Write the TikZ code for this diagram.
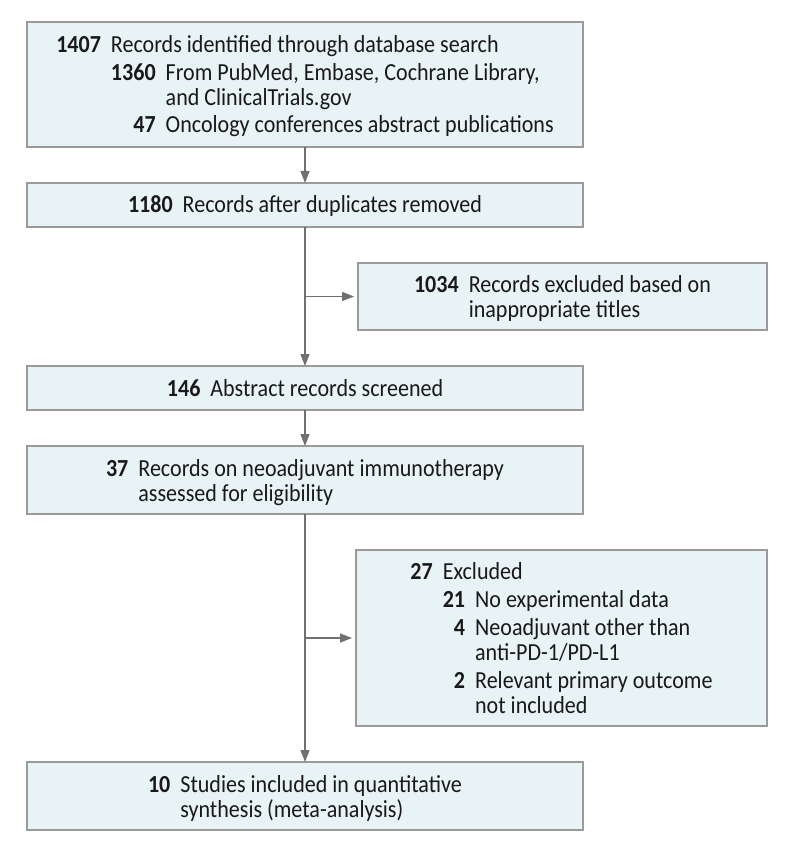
\documentclass[tikz,border=0pt]{standalone}
\usepackage{fontspec}
\setmainfont[FakeStretch=0.9]{Carlito}
\usetikzlibrary{arrows.meta}
\definecolor{boxfill}{HTML}{E8F3F5}
\definecolor{boxline}{HTML}{9A9A9A}
\definecolor{arrowc}{HTML}{707070}
\begin{document}
\begin{tikzpicture}[x=1pt,y=-1pt,
  box/.style={draw=boxline, fill=boxfill, line width=1.4pt, inner sep=0pt, outer sep=0pt},
  txt/.style={anchor=base, inner sep=0pt, font=\fontsize{24.5}{25}\selectfont, text=black!90},
  arr/.style={draw=arrowc, line width=1.3pt, -{Triangle[length=12pt,width=9pt]}},
  lin/.style={draw=arrowc, line width=1.3pt}]
\useasboundingbox (0,0) rectangle (794,850);
\fill[white] (0,0) rectangle (794,850);
% boxes
\node[box, minimum width=556pt, minimum height=125pt] (b1) at (305,84.5) {};
\node[box, minimum width=556pt, minimum height=44pt] (b2) at (305,205) {};
\node[box, minimum width=409pt, minimum height=67pt] (bx1) at (562.5,296.5) {};
\node[box, minimum width=556pt, minimum height=44pt] (b3) at (305,388) {};
\node[box, minimum width=556pt, minimum height=68pt] (b4) at (305,480) {};
\node[box, minimum width=411pt, minimum height=176pt] (bx2) at (561.5,638) {};
\node[box, minimum width=556pt, minimum height=68pt] (b5) at (305,796) {};
% texts
\node[txt] (t1) at (305,53) {\begin{tabular}[t]{@{}r@{\hspace{10pt}}r@{\hspace{10pt}}l@{}}
\textbf{1407} & \multicolumn{2}{@{}l@{}}{Records identified through database search}\\[3pt]
 & \textbf{1360} & From PubMed, Embase, Cochrane Library,\\
 & & and ClinicalTrials.gov\\[2pt]
 & \textbf{47} & Oncology conferences abstract publications
\end{tabular}};
\node[txt] (t2) at (305,213) {\textbf{1180}\hspace{10pt}Records after duplicates removed};
\node[txt] (tx1) at (562.5,292) {\begin{tabular}[t]{@{}r@{\hspace{10pt}}l@{}}
\textbf{1034} & Records excluded based on\\
 & inappropriate titles
\end{tabular}};
\node[txt] (t3) at (305,396) {\textbf{146}\hspace{10pt}Abstract records screened};
\node[txt] (t4) at (305,476) {\begin{tabular}[t]{@{}r@{\hspace{10pt}}l@{}}
\textbf{37} & Records on neoadjuvant immunotherapy\\
 & assessed for eligibility
\end{tabular}};
\node[txt] (tx2) at (561.5,579) {\begin{tabular}[t]{@{}r@{\hspace{10pt}}r@{\hspace{10pt}}l@{}}
\textbf{27} & \multicolumn{2}{@{}l@{}}{Excluded}\\[3pt]
 & \textbf{21} & No experimental data\\[3pt]
 & \textbf{4} & Neoadjuvant other than\\
 & & anti-PD-1/PD-L1\\[3pt]
 & \textbf{2} & Relevant primary outcome\\
 & & not included
\end{tabular}};
\node[txt] (t5) at (305,792) {\begin{tabular}[t]{@{}r@{\hspace{10pt}}l@{}}
\textbf{10} & Studies included in quantitative\\
 & synthesis (meta-analysis)
\end{tabular}};
% connectors
\draw[arr] (b1.south) -- (b2.north);
\draw[arr] (b2.south) -- (b3.north);
\draw[arr] (b2.south |- bx1.west) -- ([xshift=-4pt]bx1.west);
\draw[arr] (b3.south) -- (b4.north);
\draw[arr] (b4.south) -- (b5.north);
\draw[arr] (b4.south |- bx2.west) -- ([xshift=-4pt]bx2.west);
\end{tikzpicture}
\end{document}
